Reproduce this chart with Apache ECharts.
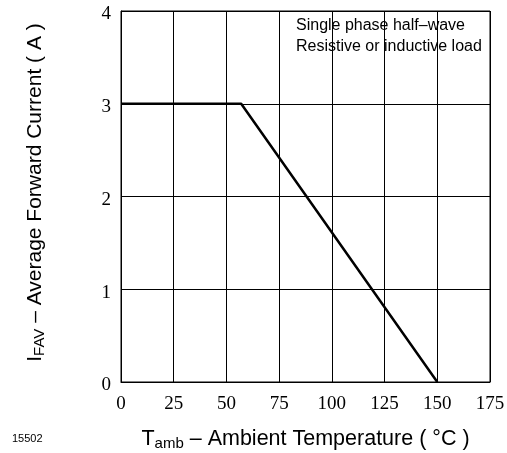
<!DOCTYPE html>
<html>
<head>
<meta charset="utf-8">
<script src="https://cdn.jsdelivr.net/npm/echarts@6/dist/echarts.min.js"></script>
<style>html,body{margin:0;padding:0;background:#fff;}#c{width:507px;height:453px;}</style>
</head>
<body>
<div id="c"></div>
<script>
const xTicks = [0, 25, 50, 75, 100, 125, 150, 175];
const yTicks = [0, 1, 2, 3, 4];
const temps = [0, 57, 150];
const currents = [3, 3, 0];
const noteLines = ['Single phase half\u2013wave', 'Resistive or inductive load'];
const figId = '15502';

const chart = echarts.init(document.getElementById('c'), null, {renderer: 'canvas'});
const serif = 'Liberation Serif, Times New Roman, serif';
const sans = 'Liberation Sans, Arial, sans-serif';
const xRich = {
  t: {fontFamily: sans, fontSize: 21.5, color: '#000'},
  s: {fontFamily: sans, fontSize: 15, color: '#000', verticalAlign: 'bottom', padding: [9, 0, 0, 0]},
  n: {fontFamily: sans, fontSize: 21.5, color: '#000'}
};
const yRich = {
  t: {fontFamily: sans, fontSize: 21, color: '#000', padding: [0, 0, 0, 8]},
  s: {fontFamily: sans, fontSize: 15, color: '#000', verticalAlign: 'bottom', padding: [9, 0, 0, 0]},
  n: {fontFamily: sans, fontSize: 21, color: '#000'}
};
chart.setOption({
  animation: false,
  backgroundColor: '#fff',
  grid: {left: 121, right: 17, top: 11, bottom: 71, outerBoundsMode: 'none', containLabel: false, show: true, borderColor: '#000', borderWidth: 1},
  xAxis: {
    type: 'value', min: xTicks[0], max: xTicks[xTicks.length - 1], interval: 25,
    axisLine: {show: true, lineStyle: {color: '#000', width: 1}},
    axisTick: {show: false},
    splitLine: {show: true, lineStyle: {color: '#000', width: 1}},
    axisLabel: {color: '#000', fontFamily: serif, fontSize: 19, margin: 13},
    name: '{t|T}{s|amb}{n| \u2013 Ambient Temperature ( \u00B0C )}',
    nameLocation: 'middle', nameGap: 45,
    nameTextStyle: {rich: xRich}
  },
  yAxis: {
    type: 'value', min: yTicks[0], max: yTicks[yTicks.length - 1], interval: 1,
    axisLine: {show: true, lineStyle: {color: '#000', width: 1}},
    axisTick: {show: false},
    splitLine: {show: true, lineStyle: {color: '#000', width: 1}},
    axisLabel: {color: '#000', fontFamily: serif, fontSize: 19, margin: 10, verticalAlign: 'top', padding: [-6, 0, 0, 0]},
    name: '{t|I}{s|FAV}{n| \u2013 Average Forward Current ( A )}',
    nameLocation: 'middle', nameGap: 74, nameRotate: 90,
    nameTextStyle: {rich: yRich}
  },
  series: [{
    type: 'line',
    data: temps.map((t, i) => [t, currents[i]]),
    showSymbol: false,
    lineStyle: {color: '#000', width: 2.5},
    z: 5
  }],
  graphic: [
    {type: 'text', left: 296, top: 15, style: {text: noteLines.join('\n'), font: '16px ' + sans, fill: '#000', lineHeight: 21}},
    {type: 'text', left: 12, top: 433, style: {text: figId, font: '11px ' + sans, fill: '#000'}}
  ]
});
</script>
</body>
</html>
